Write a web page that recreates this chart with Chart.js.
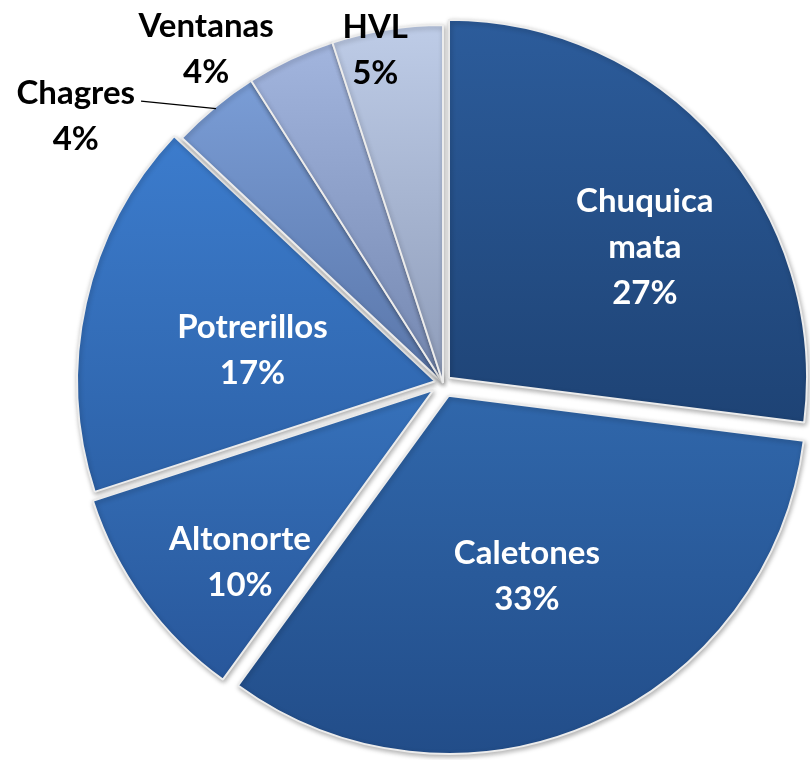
<!DOCTYPE html>
<html>
<head>
<meta charset="utf-8">
<script src="https://cdn.jsdelivr.net/npm/chart.js@4.4.1/dist/chart.umd.min.js"></script>
<style>
html,body{margin:0;padding:0;background:#ffffff;}
#wrap{width:810px;height:760px;position:relative;}
</style>
</head>
<body>
<div id="wrap"><canvas id="c" width="810" height="760"></canvas></div>
<script>
// ---- data ----
const categories = ['Chuquicamata', 'Caletones', 'Altonorte', 'Potrerillos', 'Chagres', 'Ventanas', 'HVL'];
const shares = [27, 33, 10, 17, 4, 4, 5];
const labelLines = [['Chuquica', 'mata'], ['Caletones'], ['Altonorte'], ['Potrerillos'], ['Chagres'], ['Ventanas'], ['HVL']];

// ---- styles ----
const topColors    = ['#2C5C9B', '#3067AB', '#3671BA', '#3C7CCD', '#7A9DD6', '#A2B5DE', '#BECCE7'];
const bottomColors = ['#1E4375', '#224D89', '#28579B', '#2D62A8', '#5A76A9', '#7487B0', '#8E9CB9'];
const explodePx    = [8, 14, 12, 8, 0, 0, 0];
const labelPlace = [
  { rf: 0.68,  da: 7.4,   color: '#ffffff' },
  { rf: 0.59,  da: 0,     color: '#ffffff' },
  { rf: 0.756, da: -5.4,  color: '#ffffff' },
  { rf: 0.54,  da: -2.8,  color: '#ffffff' },
  { rf: 1.268, da: -14.4, color: '#000000', leader: true },
  { rf: 1.142, da: -10.2, color: '#000000' },
  { rf: 0.949, da: -2.5,  color: '#000000' }
];
const FONT = 'bold 33px Lato, "Open Sans", sans-serif';
const LINE_H = 46;

function midAngle(a) { return (a.startAngle + a.endAngle) / 2; }

// explode + vertical gradient + soft shadow per slice
const slicePlugin = {
  id: 'slices',
  afterDatasetUpdate(chart, args) {
    const meta = args.meta;
    meta.data.forEach((arc, i) => {
      if (arc.__wrapped) return;
      const baseDraw = Object.getPrototypeOf(arc).draw;
      arc.draw = function (ctx, area) {
        const mid = midAngle(this);
        const d = explodePx[i] || 0;
        const dx = Math.cos(mid) * d, dy = Math.sin(mid) * d;
        // vertical extent of the slice
        const ys = [this.y];
        const R = this.outerRadius;
        const pts = [this.startAngle, this.endAngle];
        for (let k = -4; k <= 4; k++) {
          const ang = k * Math.PI / 2 + Math.PI / 2;
          if (ang > this.startAngle && ang < this.endAngle) pts.push(ang);
        }
        pts.forEach(a => ys.push(this.y + Math.sin(a) * R));
        const y0 = Math.min(...ys) + dy, y1 = Math.max(...ys) + dy;
        ctx.save();
        ctx.translate(dx, dy);
        const g = ctx.createLinearGradient(0, y0 - dy, 0, y1 - dy);
        g.addColorStop(0, topColors[i]);
        g.addColorStop(1, bottomColors[i]);
        ctx.shadowColor = 'rgba(0,0,0,0.30)';
        ctx.shadowBlur = 5;
        ctx.shadowOffsetX = 1;
        ctx.shadowOffsetY = 2;
        const saved = this.options;
        this.options = Object.assign({}, saved, { backgroundColor: g });
        baseDraw.call(this, ctx, area);
        this.options = saved;
        ctx.restore();
      };
      arc.__wrapped = true;
    });
  },
  afterDatasetsDraw(chart) {
    const meta = chart.getDatasetMeta(0);
    const ctx = chart.ctx;
    ctx.save();
    ctx.font = FONT;
    ctx.textAlign = 'center';
    ctx.textBaseline = 'middle';
    meta.data.forEach((arc, i) => {
      const p = labelPlace[i];
      const mid = midAngle(arc);
      const a = mid + p.da * Math.PI / 180;
      const dist = p.rf * arc.outerRadius;
      const cx = arc.x + Math.cos(a) * dist;
      const cy = arc.y + Math.sin(a) * dist;
      const lines = labelLines[i].concat([shares[i] + '%']);
      const firstY = cy - (lines.length - 1) * LINE_H / 2;
      ctx.fillStyle = p.color;
      lines.forEach((t, k) => ctx.fillText(t, cx, firstY + k * LINE_H));
      if (p.leader) {
        const w = ctx.measureText(lines[0]).width;
        const d = explodePx[i] || 0;
        const ex = arc.x + Math.cos(mid) * (arc.outerRadius + d - 2);
        const ey = arc.y + Math.sin(mid) * (arc.outerRadius + d - 2);
        ctx.beginPath();
        ctx.strokeStyle = '#000000';
        ctx.lineWidth = 1.2;
        ctx.moveTo(cx + w / 2 + 6, firstY + 8);
        ctx.lineTo(ex, ey);
        ctx.stroke();
      }
    });
    ctx.restore();
  }
};

new Chart(document.getElementById('c'), {
  type: 'pie',
  data: {
    labels: categories,
    datasets: [{
      data: shares,
      backgroundColor: topColors,
      borderColor: '#ececec',
      borderWidth: 2,
      radius: 358
    }]
  },
  options: {
    responsive: false,
    animation: false,
    events: [],
    layout: { padding: { left: 76, right: 0, top: 6, bottom: 0 } },
    plugins: {
      legend: { display: false },
      tooltip: { enabled: false }
    }
  },
  plugins: [slicePlugin]
});
</script>
</body>
</html>
